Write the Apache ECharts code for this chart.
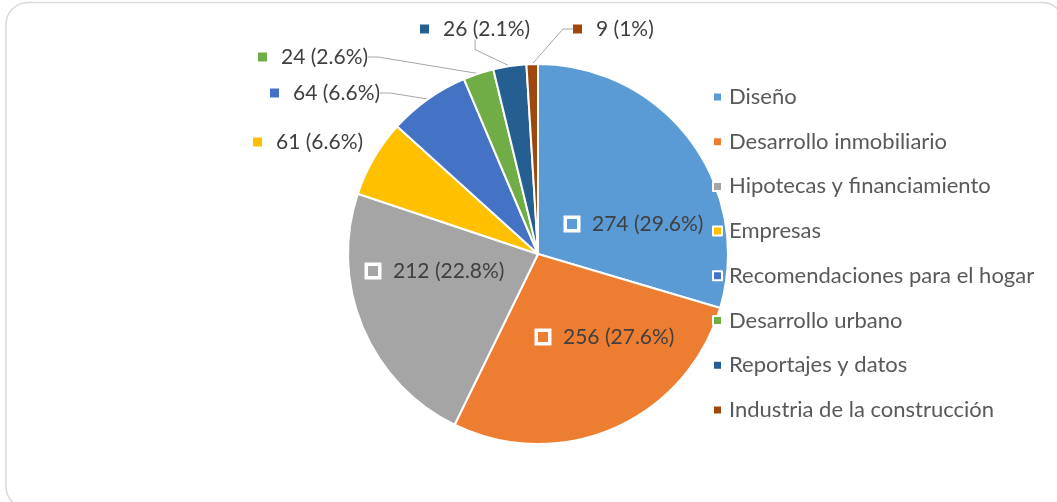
<!DOCTYPE html>
<html>
<head>
<meta charset="utf-8">
<script src="https://cdn.jsdelivr.net/npm/echarts@6/dist/echarts.min.js"></script>
<style>html,body{margin:0;padding:0;background:#fff}#c{width:1057px;height:502px}</style>
</head>
<body>
<div id="c"></div>
<script>
const categories = ['Diseño','Desarrollo inmobiliario','Hipotecas y financiamiento','Empresas','Recomendaciones para el hogar','Desarrollo urbano','Reportajes y datos','Industria de la construcción'];
const values = [274, 256, 212, 61, 64, 24, 26, 9];
const pctLabels = ['29.6%','27.6%','22.8%','6.6%','6.6%','2.6%','2.1%','1%'];
const colors = ['#5B9BD5','#ED7D31','#A5A5A5','#FFC000','#4472C4','#70AD47','#255E91','#9E480E'];

const FONT = 'Lato';
const insideCount = 3;
const labelAnchors = [[567,224],[538,337],[368,271],[253,142],[270,93],[258,57],[420,29],[573,29]];
const noLineIdx = [3];

const data = categories.map((name, i) => {
  const inside = i < insideCount;
  return {
    name: name,
    value: values[i],
    label: {
      position: inside ? 'inside' : 'outside',
      formatter: '{sq|}{t|' + values[i] + ' (' + pctLabels[i] + ')}',
      rich: {
        sq: inside
          ? {width: 10, height: 10, backgroundColor: colors[i], borderColor: '#fff', borderWidth: 3.5}
          : {width: 9, height: 9, backgroundColor: colors[i]},
        t: {fontFamily: FONT, fontSize: 21, color: '#404040', padding: [0,0,0, inside ? 15 : 14]}
      }
    },
    labelLine: {show: !inside && noLineIdx.indexOf(i) < 0}
  };
});

const chart = echarts.init(document.getElementById('c'));
chart.setOption({
  animation: false,
  color: colors,
  graphic: [{
    type: 'rect', silent: true, z: -10,
    shape: {x: 6, y: 2.5, width: 1058, height: 506, r: 22},
    style: {fill: '#fff', stroke: '#D9D9D9', lineWidth: 1.5}
  }],
  legend: {
    orient: 'vertical',
    left: 707, top: 81,
    icon: 'rect', itemWidth: 9, itemHeight: 9, itemGap: 22.7,
    textStyle: {fontFamily: FONT, fontSize: 22, color: '#595959', lineHeight: 22, padding: [0,0,0,2]},
    data: categories
  },
  series: [{
    type: 'pie',
    center: [538, 254],
    radius: 190,
    startAngle: 90,
    clockwise: true,
    avoidLabelOverlap: false,
    itemStyle: {borderColor: '#fff', borderWidth: 2},
    labelLine: {lineStyle: {color: '#A6A6A6', width: 1}, length: 10, length2: 10},
    labelLayout: function (p) {
      const a = labelAnchors[p.dataIndex];
      return {x: a[0], y: a[1], align: 'left', verticalAlign: 'middle', hideOverlap: false};
    },
    emphasis: {disabled: true},
    data: data
  }]
});
</script>
</body>
</html>
